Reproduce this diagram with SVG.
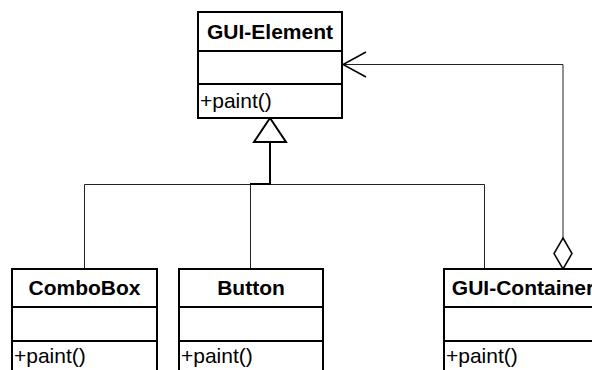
<svg xmlns="http://www.w3.org/2000/svg" width="592" height="370" viewBox="0 0 592 370">
<style>
.box{fill:#fff;stroke:#000;stroke-width:2}
.div{stroke:#000;stroke-width:2}
.name{font-family:"Liberation Sans",Arial,sans-serif;font-size:21px;font-weight:bold;text-anchor:middle;fill:#000}
.op{font-family:"Liberation Sans",Arial,sans-serif;font-size:21px;fill:#000}
.thin{fill:none;stroke:#222;stroke-width:1}
.thick{fill:none;stroke:#000;stroke-width:2}
</style>
<rect width="592" height="370" fill="#fff"/>
<g id="connectors">
<path class="thin" d="M84.5 269 V184.5 H270"/>
<path class="thin" d="M250.5 269 V184.5 H270"/>
<path class="thin" d="M484.5 269 V184.5 H270"/>
<path class="thick" d="M270 142 V184 H250"/>
<polygon points="270,118 286,142 254,142" fill="#fff" stroke="#000" stroke-width="2"/>
<path class="thin" d="M563 238 V64.5 H343"/>
<polygon points="563,238 572,253.5 563,269 554,253.5" fill="#fff" stroke="#000" stroke-width="1.5"/>
<polyline points="366,52 343,64.5 366,77" fill="none" stroke="#000" stroke-width="1.5"/>
</g>
<g id="gui-element">
<rect class="box" x="198" y="12" width="144" height="106"/>
<line class="div" x1="198" y1="51" x2="342" y2="51"/>
<line class="div" x1="198" y1="84" x2="342" y2="84"/>
<text class="name" x="270" y="39">GUI-Element</text>
<text class="op" x="200" y="108">+paint()</text>
</g>
<g id="combobox">
<rect class="box" x="12" y="269" width="145" height="120"/>
<line class="div" x1="12" y1="307" x2="157" y2="307"/>
<line class="div" x1="12" y1="341" x2="157" y2="341"/>
<text class="name" x="84.5" y="295">ComboBox</text>
<text class="op" x="14" y="363">+paint()</text>
</g>
<g id="button">
<rect class="box" x="179" y="269" width="144" height="120"/>
<line class="div" x1="179" y1="307" x2="323" y2="307"/>
<line class="div" x1="179" y1="341" x2="323" y2="341"/>
<text class="name" x="251" y="295">Button</text>
<text class="op" x="181" y="363">+paint()</text>
</g>
<g id="gui-container">
<rect class="box" x="444" y="269" width="160" height="120"/>
<line class="div" x1="444" y1="307" x2="604" y2="307"/>
<line class="div" x1="444" y1="341" x2="604" y2="341"/>
<text class="name" x="523" y="295">GUI-Container</text>
<text class="op" x="446" y="363">+paint()</text>
</g>
</svg>
